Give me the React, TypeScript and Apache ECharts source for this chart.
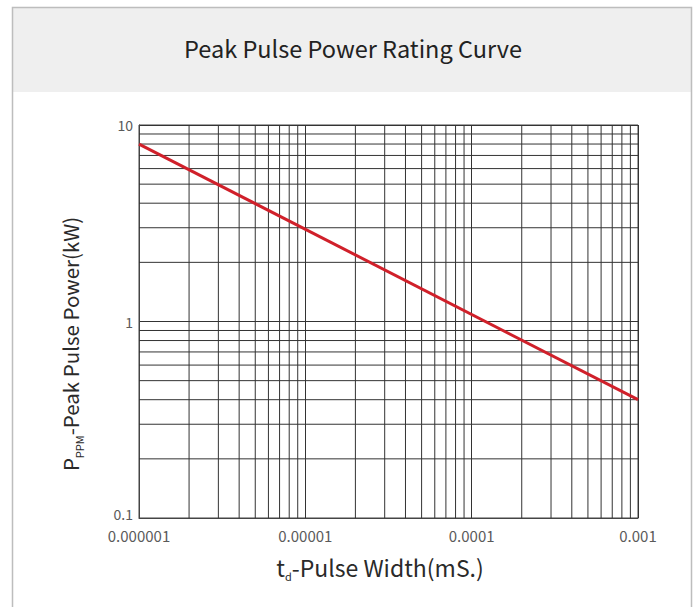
import React, { useEffect, useRef } from "react";
import * as echarts from "echarts";

const FONT = "'Noto Sans CJK SC', 'Noto Sans', sans-serif";

const titleText = "Peak Pulse Power Rating Curve";
const xTickLabels = ["0.000001", "0.00001", "0.0001", "0.001"];
const yTickLabels = ["0.1", "1", "10"];
const xMin = 0.000001;
const xMax = 0.001;
const yMin = 0.1;
const yMax = 10;

// minor grid lines (2..9 in each decade)
const xMinorGrid = [
  0.000002, 0.000003, 0.000004, 0.000005, 0.000006, 0.000007, 0.000008, 0.000009,
  0.00002, 0.00003, 0.00004, 0.00005, 0.00006, 0.00007, 0.00008, 0.00009,
  0.0002, 0.0003, 0.0004, 0.0005, 0.0006, 0.0007, 0.0008, 0.0009,
];
const yMinorGrid = [
  0.2, 0.3, 0.4, 0.5, 0.6, 0.7, 0.8, 0.9,
  2, 3, 4, 5, 6, 7, 8, 9,
];

// curve: pulse width (mS) vs peak pulse power (kW)
const pulseWidth = [0.000001, 0.001];
const peakPower = [8, 0.4];

function makeRich(main: number) {
  return {
    m: { fontSize: main, fontFamily: FONT, fill: "#2a2a2a", color: "#2a2a2a", lineHeight: 24 },
    s: {
      fontSize: 11,
      fontFamily: FONT,
      fill: "#2a2a2a",
      color: "#2a2a2a",
      lineHeight: 12,
      padding: [18, 0, 0, 0],
    },
  };
}

export default function App() {
  const ref = useRef<HTMLDivElement>(null);

  useEffect(() => {
    if (!ref.current) return;
    const chart = echarts.init(ref.current, undefined, { renderer: "svg" });
    const gridColor = "#333333";
    const gridSeries = [
      ...xMinorGrid.map((v) => [
        [v, yMin],
        [v, yMax],
      ]),
      ...yMinorGrid.map((v) => [
        [xMin, v],
        [xMax, v],
      ]),
    ].map((pts) => ({
      type: "line",
      data: pts,
      z: 1,
      silent: true,
      symbol: "none",
      showSymbol: false,
      lineStyle: { color: gridColor, width: 1 },
      emphasis: { disabled: true },
    }));
    const yLabelStyle = { color: "#5a5a5a", fontSize: 14, fontFamily: FONT, lineHeight: 12 };
    chart.setOption({
      animation: false,
      backgroundColor: "#ffffff",
      grid: {
        left: 139,
        right: 59,
        top: 125,
        bottom: 89,
        show: true,
        borderColor: "#444",
        borderWidth: 1,
        backgroundColor: "transparent",
      },
      xAxis: {
        type: "log",
        logBase: 10,
        min: xMin,
        max: xMax,
        axisLine: { show: true, lineStyle: { color: "#444", width: 1 } },
        axisTick: { show: false },
        splitLine: { show: true, lineStyle: { color: gridColor, width: 1 } },
        axisLabel: {
          color: "#5a5a5a",
          fontSize: 15,
          lineHeight: 14,
          fontFamily: FONT,
          margin: 10,
          formatter: (_v: number, i: number) => xTickLabels[i] ?? "",
        },
      },
      yAxis: {
        type: "log",
        logBase: 10,
        min: yMin,
        max: yMax,
        axisLine: { show: true, lineStyle: { color: "#444", width: 1 } },
        axisTick: { show: false },
        splitLine: { show: true, lineStyle: { color: gridColor, width: 1 } },
        axisLabel: {
          color: "#5a5a5a",
          fontSize: 14,
          lineHeight: 12,
          fontFamily: FONT,
          margin: 6,
          formatter: (_v: number, i: number) =>
            i === 0 ? `{lo|${yTickLabels[i]}}` : `{n|${yTickLabels[i] ?? ""}}`,
          rich: {
            n: yLabelStyle,
            lo: { ...yLabelStyle, padding: [0, 0, 8, 0] },
          },
        },
      },
      graphic: [
        {
          type: "rect",
          z: -10,
          silent: true,
          shape: { x: 12, y: 7, width: 680, height: 85 },
          style: { fill: "#efefef" },
        },
        {
          type: "rect",
          z: -9,
          silent: true,
          shape: { x: 12.5, y: 7.5, width: 679, height: 700 },
          style: { fill: "none", stroke: "#bdbdbd", lineWidth: 1.5 },
        },
        {
          type: "text",
          x: 353,
          y: 48,
          style: {
            text: titleText,
            fontSize: 23.5,
            fontWeight: "normal",
            fontFamily: FONT,
            fill: "#222",
            align: "center",
            verticalAlign: "middle",
            textAlign: "center",
            textVerticalAlign: "middle",
          },
        },
        {
          type: "text",
          x: 380,
          y: 567,
          style: {
            text: "{m|t}{s|d}{m|-Pulse Width(mS.)}",
            rich: makeRich(23),
            align: "center",
            verticalAlign: "middle",
            textAlign: "center",
            textVerticalAlign: "middle",
          },
        },
        {
          type: "text",
          x: 70,
          y: 344,
          rotation: Math.PI / 2,
          style: {
            text: "{m|P}{s|PPM}{m|-Peak Pulse Power(kW)}",
            rich: makeRich(20.5),
            align: "center",
            verticalAlign: "middle",
            textAlign: "center",
            textVerticalAlign: "middle",
          },
        },
      ],
      series: [
        ...gridSeries,
        {
          type: "line",
          z: 5,
          data: pulseWidth.map((x, i) => [x, peakPower[i]]),
          showSymbol: false,
          symbol: "none",
          lineStyle: { color: "#d0202a", width: 3 },
        },
      ],
    });
    return () => chart.dispose();
  }, []);

  return (
    <div
      ref={ref}
      style={{ position: "absolute", left: 0, top: 0, width: 697, height: 607 }}
    />
  );
}
